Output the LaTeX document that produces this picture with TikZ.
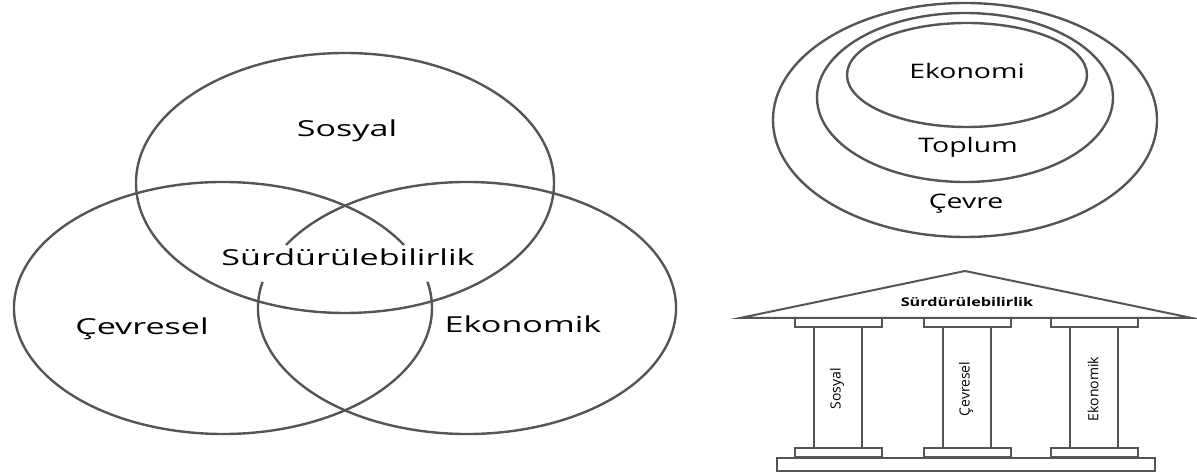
\documentclass[tikz,border=0pt]{standalone}
\usepackage{fontspec}
\usepackage{graphicx}
\setmainfont{Open Sans}
\definecolor{linegray}{RGB}{85,85,85}
\newcommand{\widetxt}[2]{\scalebox{#1}[1]{#2}}

\begin{document}
\begin{tikzpicture}[x=1pt, y=1pt,
    ring/.style={draw=linegray, line width=2.4pt},
    part/.style={draw=linegray, line width=2pt},
    venntxt/.style={anchor=base, font=\fontsize{22}{26}\selectfont},
    circtxt/.style={anchor=base, font=\fontsize{20}{24}\selectfont},
    coltxt/.style={rotate=90, font=\fontsize{14}{16}\selectfont}]
  \useasboundingbox (0,0) rectangle (1197,473);

  % venn
  \draw[ring] (345,290) ellipse [x radius=209, y radius=130];
  \draw[ring] (223,165) ++(30:209 and 126)
    arc [start angle=30, end angle=372, x radius=209, y radius=126];
  \draw[ring] (467,165) ++(168:209 and 126)
    arc [start angle=168, end angle=510, x radius=209, y radius=126];
  \node[venntxt] (sosyal) at (347,336) {\widetxt{1.55}{Sosyal}};
  \node[venntxt] (surdur) at (348,207) {\widetxt{1.55}{Sürdürülebilirlik}};
  \node[venntxt] (cevresel) at (142,138) {\widetxt{1.55}{Çevresel}};
  \node[venntxt] (ekonomik) at (523,140) {\widetxt{1.55}{Ekonomik}};

  % nested
  \draw[ring] (965,353) ellipse [x radius=192, y radius=117];
  \draw[ring] (965,375.5) ellipse [x radius=148, y radius=84.5];
  \draw[ring] (967,398) ellipse [x radius=120, y radius=52];
  \node[circtxt] (ekonomi) at (967,394) {\widetxt{1.42}{Ekonomi}};
  \node[circtxt] (toplum) at (968,320) {\widetxt{1.42}{Toplum}};
  \node[circtxt] (cevre) at (966,264) {\widetxt{1.42}{Çevre}};

  % temple
  \draw[part] (740,155) -- (965,202) -- (1192,155) -- cycle;
  \node[font=\bfseries\fontsize{12}{14}\selectfont] (roof) at (967,171)
    {\widetxt{1.35}{Sürdürülebilirlik}};
  \foreach \cx/\lbl/\nm in {838/Sosyal/sos, 967/Çevresel/cev, 1094/Ekonomik/eko} {
    \draw[part] (\cx-43.5,155) rectangle (\cx+43.5,146);
    \draw[part, line width=2.5pt] (\cx-24,146) rectangle (\cx+24,25);
    \draw[part] (\cx-43.5,25) rectangle (\cx+43.5,16);
    \node[coltxt] (\nm) at (\cx-1,84) {\lbl};
  }
  \draw[part] (777,15) rectangle (1155,2);
\end{tikzpicture}
\end{document}
